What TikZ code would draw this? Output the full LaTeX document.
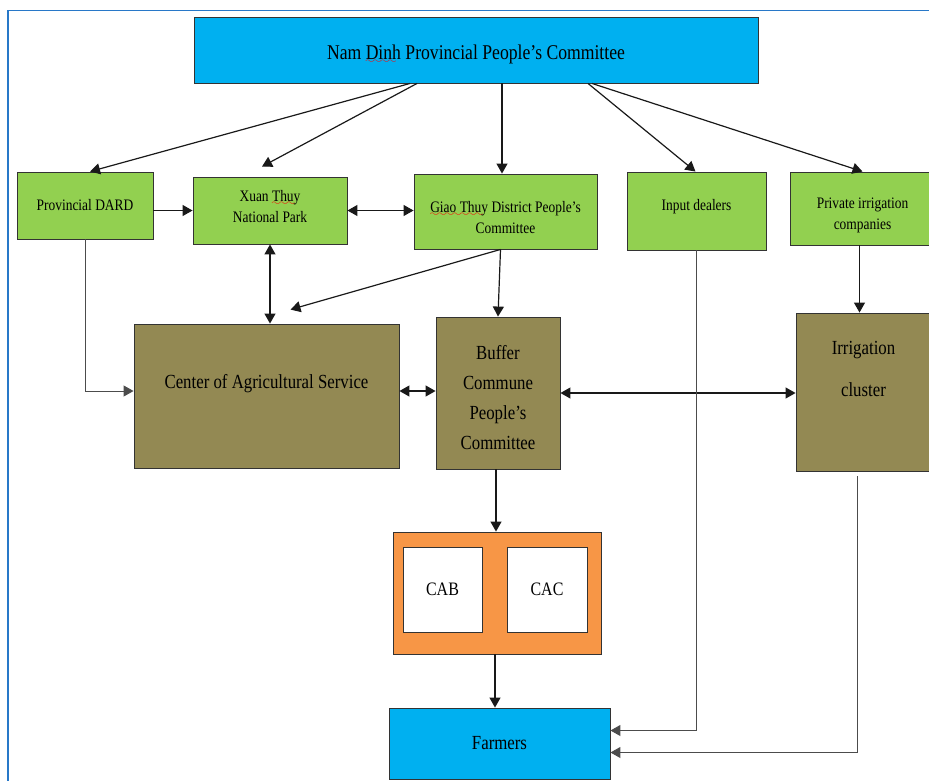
\documentclass[tikz,border=0pt]{standalone}
\usepackage{fontspec}
\setmainfont{Liberation Serif}[FakeStretch=0.84]
\usetikzlibrary{arrows.meta, positioning}

\definecolor{skyblue}{RGB}{0,176,240}
\definecolor{leafgreen}{RGB}{146,208,80}
\definecolor{olivebrown}{RGB}{147,137,83}
\definecolor{boxorange}{RGB}{247,150,70}
\definecolor{frameblue}{RGB}{40,120,200}

% red wavy underline for the misspelt names
\font\wavefont=lasy6 at 9pt
\newcommand\spellwave[1]{\setbox0\hbox{#1}%
  \rlap{\textcolor{red}{\lower4pt\hbox to\wd0{\leaders\hbox{\wavefont\char58}\hfill}}}\box0\relax}

\begin{document}
\begin{tikzpicture}[x=1pt, y=-1pt,
    box/.style={draw=black!80, line width=0.9pt, align=center, inner sep=0pt},
    top_box/.style={box, fill=skyblue, font=\fontsize{21}{25}\selectfont},
    green_box/.style={box, fill=leafgreen, font=\fontsize{16}{21}\selectfont},
    brown_box/.style={box, fill=olivebrown, font=\fontsize{20}{30}\selectfont},
    white_box/.style={box, fill=white, font=\fontsize{19}{23}\selectfont},
    arrow/.style={-{Triangle[length=10pt,width=11pt]}, line width=1.2pt, black!90},
    arrow_both/.style={{Triangle[length=10pt,width=11pt]}-{Triangle[length=10pt,width=11pt]}, line width=1.2pt, black!90},
    arrow_thin/.style={-{Triangle[length=10pt,width=11pt]}, line width=1pt, black!70}
]
\useasboundingbox (0,0) rectangle (929,780);

% frame
\draw[frameblue, line width=1.5pt] (8,800) -- (8,10.5) -- (945,10.5);

% province level
\node[top_box, minimum width=564, minimum height=66, text height=20, text depth=2] (npc) at (476,50) {Nam \spellwave{Dinh} Provincial People’s Committee};

\node[green_box, minimum width=136, minimum height=67] (dard) at (85,205.5) {Provincial DARD};
\node[green_box, minimum width=154, minimum height=67, text height=35, text depth=12] (xtnp) at (270,210.5) {Xuan \spellwave{Thuy}\\National Park};
\node[green_box, minimum width=183, minimum height=75, text height=50, text depth=7] (gtd) at (505.5,211.5) {\spellwave{Giao Thuy} District People’s\\Committee};
\node[green_box, minimum width=139, minimum height=78, text height=10, text depth=12] (dealer) at (696.5,211) {Input dealers};
\node[green_box, minimum width=145, minimum height=73, text height=50, text depth=8] (pic) at (862.5,208.5) {Private irrigation\\companies};

% commune level
\node[brown_box, minimum width=265, minimum height=144, text height=10, text depth=26] (cas) at (266.5,396) {Center of Agricultural Service};
\node[brown_box, minimum width=124, minimum height=152, text height=125, text depth=13] (bcpc) at (498,393) {Buffer\\Commune\\People’s\\Committee};
\node[brown_box, minimum width=135, minimum height=158, text height=50, text depth=42] (icl) at (863.5,392) {Irrigation\\[12pt]cluster};

% CAB and CAC
\node[box, fill=boxorange, minimum width=208, minimum height=122] (cabcac) at (497,593) {};
\node[white_box, minimum width=79, minimum height=85] (cab) at (442.5,589.5) {CAB};
\node[white_box, minimum width=80, minimum height=85] (cac) at (547,589.5) {CAC};

\node[top_box, font=\fontsize{20}{24}\selectfont, minimum width=221, minimum height=71] (farm) at (499.5,743.5) {Farmers};

% edges from the province
\draw[arrow] ([xshift=-66]npc.south) -- ([xshift=5]dard.north);
\draw[arrow] ([xshift=-59]npc.south) -- ([xshift=-8,yshift=10]xtnp.north);
\draw[arrow] ([xshift=26]npc.south) -- ([xshift=26]npc.south |- gtd.north);
\draw[arrow] ([xshift=112]npc.south) -- ([xshift=-1]dealer.north);
\draw[arrow] ([xshift=116]npc.south) -- (pic.north);

% edges between agencies
\draw[arrow] (dard.east |- xtnp.west) -- (xtnp.west);
\draw[arrow_both] (xtnp.east) -- (xtnp.east -| gtd.west);
\draw[arrow_both] (xtnp.south) -- (xtnp.south |- cas.north);
\draw[arrow] ([xshift=-5]gtd.south) -- ([xshift=24,yshift=14]cas.north);
\draw[arrow] ([xshift=-5]gtd.south) -- (bcpc.north);
\draw[arrow_thin] (dard.south) |- ([yshift=5]cas.west);
\draw[arrow_both] ([yshift=5]cas.east) -- ([yshift=5]cas.east -| bcpc.west);
\draw[arrow_both] (bcpc.east) -- (bcpc.east -| icl.west);
\draw[arrow] ([xshift=-3]pic.south) -- ([xshift=-3]pic.south |- icl.north);

% edges down to farmers
\draw[arrow] ([xshift=-2]bcpc.south) -- ([xshift=-2]bcpc.south |- cabcac.north);
\draw[arrow] ([xshift=-2]cabcac.south) -- ([xshift=-2]cabcac.south |- farm.north);
\draw[arrow_thin] (dealer.south) |- ([yshift=13]farm.east);
\draw[arrow_thin] ([xshift=-6,yshift=-5]icl.south) |- ([yshift=-9]farm.east);

\end{tikzpicture}
\end{document}
